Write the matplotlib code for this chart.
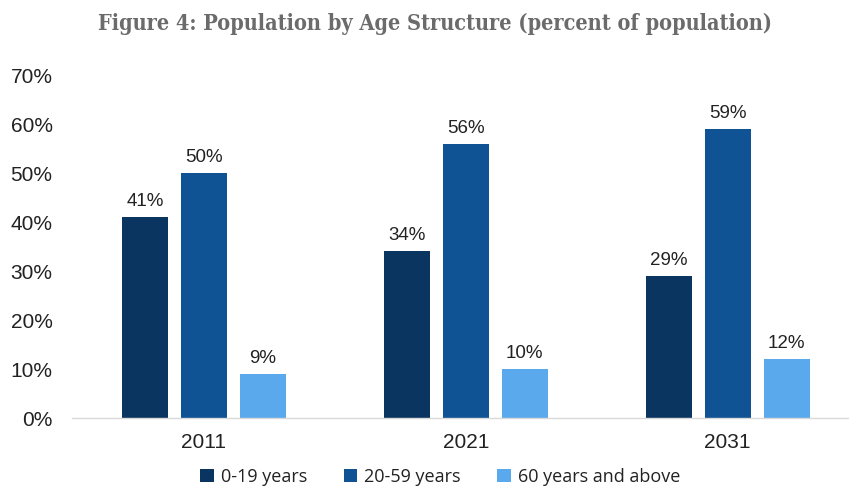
import matplotlib
matplotlib.use("Agg")
import matplotlib.pyplot as plt
import matplotlib.ticker as mticker
import numpy as np

# population share by age band, percent
years = ["2011", "2021", "2031"]
age_groups = ["0-19 years", "20-59 years", "60 years and above"]
share_0_19 = [41, 34, 29]
share_20_59 = [50, 56, 59]
share_60_plus = [9, 10, 12]
y_ticks = [0, 10, 20, 30, 40, 50, 60, 70]

COLORS = ["#0b3561", "#0f5394", "#5ba9ed"]
BAR_W = 0.175
STEP = 0.225

fig = plt.figure(figsize=(8.49, 4.88), dpi=100)
ax = fig.add_axes([0.0848, 0.1434, 0.9152, 0.7029])

x = np.arange(len(years))
series = [share_0_19, share_20_59, share_60_plus]
for i, (vals, color, label) in enumerate(zip(series, COLORS, age_groups)):
    pos = x + (i - 1) * STEP
    bars = ax.bar(pos, vals, width=BAR_W, color=color, label=label,
                  edgecolor="none", zorder=2)
    for b, v in zip(bars, vals):
        ax.annotate(f"{v}%", (b.get_x() + b.get_width() / 2, v),
                    xytext=(0, 5), textcoords="offset points",
                    ha="center", va="bottom", fontsize=13.5,
                    family="Liberation Sans", color="#222222")

ax.set_ylim(0, 70)
ax.set_xlim(-0.503, 2.463)
ax.set_yticks(y_ticks)
ax.yaxis.set_major_formatter(mticker.FuncFormatter(lambda v, _: f"{v:.0f}%"))
ax.set_xticks(x)
ax.set_xticklabels(years)
ax.tick_params(axis="y", length=0, pad=14, labelsize=15)
ax.tick_params(axis="x", length=0, pad=11, labelsize=15)
for lab in ax.get_xticklabels() + ax.get_yticklabels():
    lab.set_family("Liberation Sans")
    lab.set_color("#222222")

for side in ("top", "right", "left"):
    ax.spines[side].set_visible(False)
ax.spines["bottom"].set_color("#d9d9d9")
ax.spines["bottom"].set_linewidth(1.0)

leg = ax.legend(loc="center", bbox_to_anchor=(0.474, -0.172), ncol=3,
                frameon=False, handlelength=0.75, handleheight=0.75,
                handletextpad=0.4, columnspacing=2.0,
                prop={"family": "Open Sans", "size": 13})
for t in leg.get_texts():
    t.set_color("#222222")

fig.text(0.512, 0.95, "Figure 4: Population by Age Structure (percent of population)",
         ha="center", va="center", fontsize=15.6, fontweight="bold",
         family="DejaVu Serif", fontstretch="condensed", color="#6b6b6b")

fig.savefig("out.png", dpi=100)
